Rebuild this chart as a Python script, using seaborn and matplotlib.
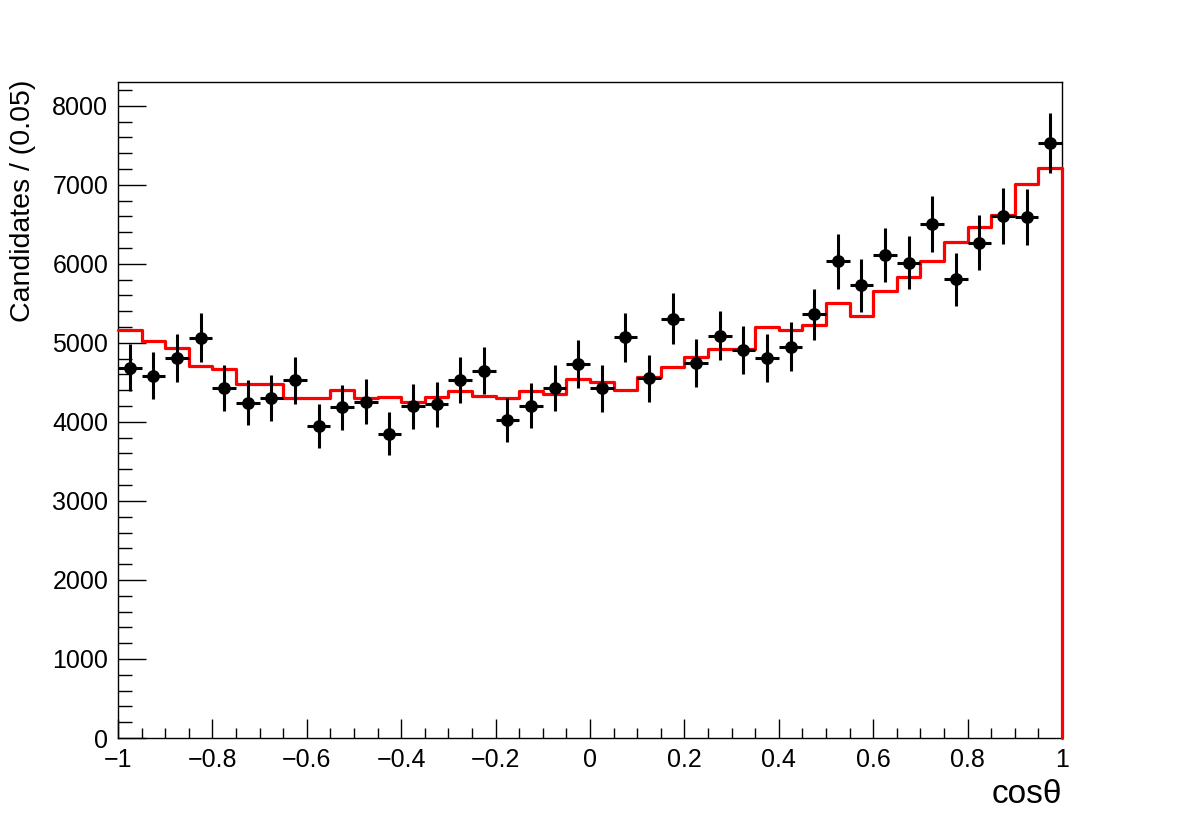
import numpy as np
import matplotlib
matplotlib.use("Agg")
import matplotlib.pyplot as plt
import seaborn as sns
from matplotlib.ticker import MultipleLocator

# ----- data -----
bin_edges = np.round(np.arange(-1.0, 1.0001, 0.05), 3)
bin_centres = bin_edges[:-1] + 0.025

candidates = [4686, 4584, 4804, 5066, 4427, 4242, 4305, 4525, 3946, 4187,
              4255, 3849, 4199, 4221, 4529, 4648, 4027, 4204, 4427, 4727,
              4423, 5070, 4550, 5306, 4749, 5091, 4909, 4804, 4952, 5361,
              6029, 5729, 6109, 6016, 6506, 5805, 6265, 6607, 6594, 7529]

cand_err = [301, 298, 305, 313, 293, 287, 289, 296, 276, 285,
            287, 273, 285, 286, 296, 300, 279, 285, 293, 303,
            293, 313, 297, 321, 303, 314, 308, 305, 310, 322,
            342, 333, 344, 341, 355, 335, 348, 358, 357, 382]

fit_curve = [5162, 5023, 4930, 4706, 4664, 4478, 4485, 4300, 4305, 4402,
             4300, 4310, 4250, 4318, 4389, 4326, 4305, 4385, 4356, 4537,
             4503, 4406, 4571, 4689, 4820, 4926, 4926, 5200, 5162, 5226,
             5501, 5340, 5657, 5839, 6029, 6278, 6468, 6612, 7013, 7208]

# ----- style -----
sns.set_style("ticks")
plt.rcParams["font.family"] = ["Liberation Sans", "DejaVu Sans"]
for key in ["text.color", "axes.labelcolor", "xtick.color", "ytick.color"]:
    plt.rcParams[key] = "black"

fig = plt.figure(figsize=(11.82, 8.21), dpi=100)
ax = fig.add_axes([118 / 1182, 1 - 738 / 821, 944 / 1182, 656 / 821])

# fit histogram outline, dropping to zero at the right edge
step_x = list(bin_edges) + [1.0]
step_y = fit_curve + [fit_curve[-1], 0]
sns.lineplot(x=step_x, y=step_y, drawstyle="steps-post", sort=False,
             estimator=None, color="#ff0000", linewidth=2.3, ax=ax,
             zorder=3, clip_on=False)

# data points with error bars
ax.errorbar(bin_centres, candidates, yerr=cand_err, xerr=0.025, fmt="none",
            ecolor="black", elinewidth=2.2, capsize=0, zorder=4)
sns.scatterplot(x=bin_centres, y=candidates, color="black", s=85,
                edgecolor="black", linewidth=0, ax=ax, zorder=5)

# ----- axes -----
ax.set_xlim(-1, 1)
ax.set_ylim(0, 8300)
ax.xaxis.set_major_locator(MultipleLocator(0.2))
ax.xaxis.set_minor_locator(MultipleLocator(0.05))
ax.yaxis.set_major_locator(MultipleLocator(1000))
ax.yaxis.set_minor_locator(MultipleLocator(200))
ax.set_xticks(np.round(np.arange(-1, 1.01, 0.2), 1))
ax.set_xticklabels(["\u22121", "\u22120.8", "\u22120.6", "\u22120.4", "\u22120.2",
                    "0", "0.2", "0.4", "0.6", "0.8", "1"])

ax.tick_params(axis="x", which="major", direction="in", length=13.5, width=1,
               labelsize=18, pad=7)
ax.tick_params(axis="x", which="minor", direction="in", length=7, width=1)
ax.tick_params(axis="y", which="major", direction="in", length=20, width=1,
               labelsize=18, pad=7)
ax.tick_params(axis="y", which="minor", direction="in", length=10, width=1)

for side in ["top", "right", "left", "bottom"]:
    ax.spines[side].set_visible(True)
    ax.spines[side].set_linewidth(1)
    ax.spines[side].set_color("black")

ax.set_xlabel("cos\u03b8", fontsize=24, loc="right")
ax.xaxis.set_label_coords(1.0, -0.062)
ax.set_ylabel("Candidates / (0.05)", fontsize=20.5, loc="top")
ax.yaxis.set_label_coords(-0.087, 1.003)

fig.savefig("out.png", dpi=100)
